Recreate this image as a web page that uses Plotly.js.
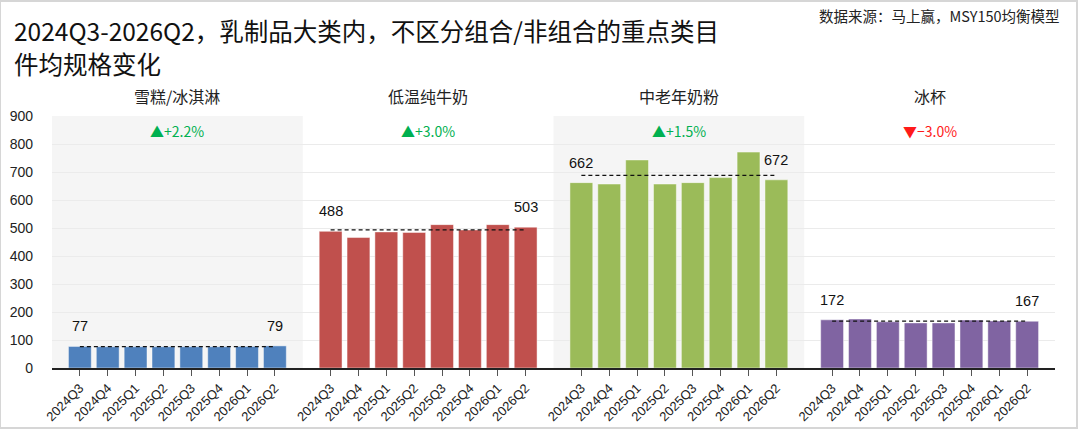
<!DOCTYPE html>
<html>
<head>
<meta charset="utf-8">
<script src="https://cdn.plot.ly/plotly-3.0.1.min.js"></script>
<style>
  body { margin: 0; background: #fff; }
  #graph { width: 1080px; height: 430px; }
  #frame { position: absolute; left: 0; top: 0; width: 1078px; height: 429px;
           border: 1px solid #d6d6d6; border-width: 2px 2px 2px 1px; box-sizing: border-box; pointer-events: none; }
</style>
</head>
<body>
<div id="graph"></div>
<div id="frame"></div>
<script>
// 분기 라벨과 카테고리
var quarters = ['2024Q3', '2024Q4', '2025Q1', '2025Q2', '2025Q3', '2025Q4', '2026Q1', '2026Q2'];
var groupNames = ['雪糕/冰淇淋', '低温纯牛奶', '中老年奶粉', '冰杯'];

// 각 카테고리 건당 규격
var iceCream = [77, 76, 76, 76, 76, 76, 77, 79];
var lowTempMilk = [488, 466, 486, 484, 512, 493, 512, 503];
var seniorMilkPowder = [662, 657, 743, 657, 662, 680, 771, 672];
var iceCup = [172, 175, 165, 161, 161, 171, 168, 167];

// 변화율 라벨
var changeLabels = ['+2.2%', '+3.0%', '+1.5%', '−3.0%'];
var changeUp = [true, true, true, false];

var titleLines = ['2024Q3-2026Q2，乳制品大类内，不区分组合/非组合的重点类目', '件均规格变化'];
var sourceText = '数据来源：马上赢，MSY150均衡模型';

var barColors = ['#4f81bd', '#c0504d', '#9bbb59', '#8064a2'];
var seriesList = [iceCream, lowTempMilk, seniorMilkPowder, iceCup];

var step = quarters.length + 1; // 그룹 사이 빈 칸 하나
var traces = [];
var annotations = [];
var shapes = [];
var tickvals = [];
var ticktext = [];
var numFont = 'Liberation Sans, Arial, Noto Sans CJK SC, sans-serif';
var cjkFont = 'Noto Sans CJK SC, sans-serif';

// 플롯 영역 픽셀 크기 (주석 위치 계산용)
var plotW = 1080 - 52 - 25;
var plotH = 430 - 116 - 62;

seriesList.forEach(function (values, g) {
    var xs = quarters.map(function (q, i) { return g * step + i; });
    xs.forEach(function (x, i) { tickvals.push(x); ticktext.push(quarters[i]); });

    traces.push({
        type: 'bar',
        x: xs,
        y: values,
        width: 0.82,
        marker: { color: barColors[g], line: { color: 'rgba(255,255,255,0.45)', width: 1 } },
        hoverinfo: 'skip'
    });

    // 평균 점선
    var sum = 0;
    values.forEach(function (v) { sum += v; });
    var avg = sum / values.length;
    traces.push({
        type: 'scatter',
        mode: 'lines',
        x: [xs[0], xs[xs.length - 1]],
        y: [avg, avg],
        line: { color: '#111', width: 1.3, dash: '4px,3px' },
        hoverinfo: 'skip'
    });

    // 첫/마지막 값 라벨
    [0, values.length - 1].forEach(function (i) {
        annotations.push({
            x: xs[i], y: values[i], xref: 'x', yref: 'y',
            text: String(values[i]), showarrow: false,
            yanchor: 'bottom', yshift: 10,
            font: { family: numFont, size: 14.5, color: '#111' }
        });
    });

    var center = g * step + (quarters.length - 1) / 2;
    // 그룹 제목
    annotations.push({
        x: center, y: 1, xref: 'x', yref: 'paper',
        text: groupNames[g], showarrow: false,
        yanchor: 'bottom', yshift: 6,
        font: { family: cjkFont, size: 16, color: '#222' }
    });
    // 변화율
    annotations.push({
        x: center, y: 1, xref: 'x', yref: 'paper',
        text: (changeUp[g] ? '▲' : '▼') + changeLabels[g], showarrow: false,
        yanchor: 'top', yshift: -3,
        font: { family: cjkFont, size: 14, color: changeUp[g] ? '#00b050' : '#ff1a1a' }
    });

    // 1, 3번째 그룹 배경 음영
    if (g % 2 === 0) {
        shapes.push({
            type: 'rect', layer: 'below', xref: 'x', yref: 'paper',
            x0: g * step - 1, x1: g * step + quarters.length, y0: 0, y1: 1,
            fillcolor: '#f5f5f5', line: { width: 0 }
        });
    }
});

// 제목 (두 줄, 줄마다 따로 배치)
var titleCenters = [31, 63];
titleLines.forEach(function (line, k) {
    annotations.push({
        xref: 'paper', yref: 'paper',
        x: -40 / plotW, y: 1 + (116 - titleCenters[k]) / plotH,
        xanchor: 'left', yanchor: 'middle',
        text: line, showarrow: false,
        font: { family: cjkFont, size: 24.5, color: '#111' }
    });
});

// 출처
annotations.push({
    xref: 'paper', yref: 'paper',
    x: 1 + 7 / plotW, y: 1 + 101 / plotH,
    xanchor: 'right', yanchor: 'middle',
    text: sourceText, showarrow: false,
    font: { family: cjkFont, size: 14.5, color: '#222' }
});

var layout = {
    width: 1080,
    height: 430,
    margin: { l: 52, r: 25, t: 116, b: 62 },
    paper_bgcolor: '#ffffff',
    plot_bgcolor: 'rgba(0,0,0,0)',
    showlegend: false,
    hovermode: false,
    barmode: 'overlay',
    xaxis: {
        range: [-1, seriesList.length * step - 1],
        tickmode: 'array',
        tickvals: tickvals,
        ticktext: ticktext,
        tickangle: -45,
        ticks: 'outside',
        ticklen: 6,
        tickcolor: '#555',
        showgrid: false,
        zeroline: false,
        showline: true,
        linecolor: '#222',
        linewidth: 1.5,
        tickfont: { family: numFont, size: 13, color: '#222' }
    },
    yaxis: {
        range: [0, 900],
        dtick: 100,
        showgrid: true,
        gridcolor: '#ebebeb',
        zeroline: false,
        showline: false,
        ticklabelstandoff: 18,
        tickfont: { family: numFont, size: 14, color: '#222' }
    },
    shapes: shapes,
    annotations: annotations
};

Plotly.newPlot('graph', traces, layout, { displayModeBar: false, staticPlot: true });
</script>
</body>
</html>
